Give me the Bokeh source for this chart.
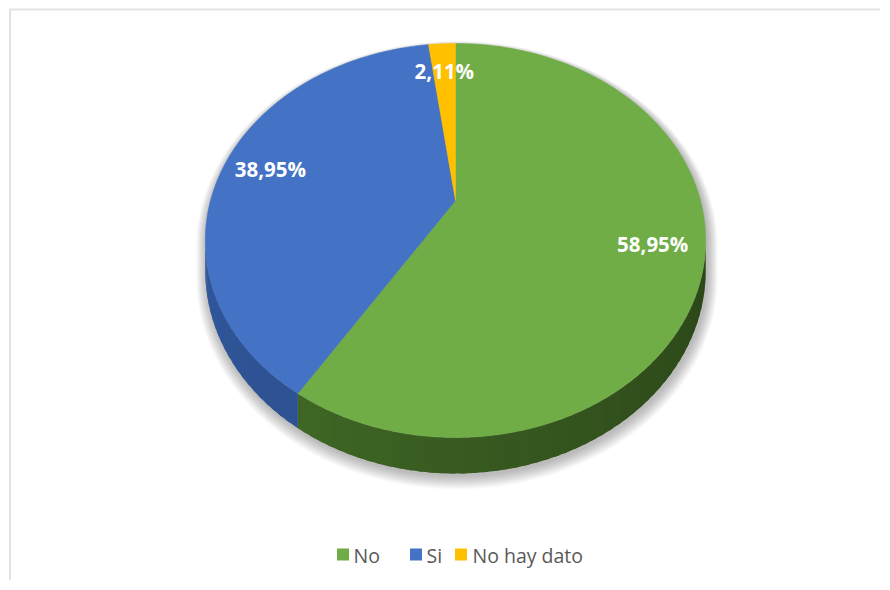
import numpy as np
from bokeh.plotting import figure
from bokeh.models import Range1d
from bokeh.embed import file_html
from bokeh.resources import INLINE
from bokeh.core.properties import value

# ---- data ----
categories = ["No", "Si", "No hay dato"]
values = [58.95, 38.95, 2.11]
labels = ["58,95%", "38,95%", "2,11%"]

# ---- style ----
top_colors = ["#70AD47", "#4472C4", "#FFC000"]
side_light = np.array([[0x4a, 0x79, 0x2c], [0x31, 0x58, 0x9c], [0xb3, 0x86, 0x00]], float)
side_dark = np.array([[0x2c, 0x47, 0x19], [0x27, 0x47, 0x80], [0x8a, 0x67, 0x00]], float)
FONT = "Open Sans"

# projection of a tilted disc (screen pixel space)
CX, CY = 455.0, 200.0
RX = 245.0
B = 148.3
K = 0.203
DEPTH = 28.7


def proj(theta_deg, r=1.0):
    t = np.radians(theta_deg)
    u = r * np.sin(t)
    v = -r * np.cos(t)
    w = 1 - K * v
    return CX + RX * u / w, (CY + B * v) / w


def proj_bottom(theta_deg):
    x, y = proj(theta_deg)
    v = -np.cos(np.radians(theta_deg))
    return x, y + DEPTH / (1 - K * v)


def hexc(rgb):
    return "#%02x%02x%02x" % tuple(int(round(c)) for c in rgb)


vals = np.array(values, float)
frac = vals / vals.sum()
ends = np.cumsum(frac) * 360.0
starts = ends - frac * 360.0

p = figure(width=880, height=580, x_range=Range1d(0, 880), y_range=Range1d(580, 0),
           output_backend="svg", toolbar_location=None, min_border=0,
           x_axis_type=None, y_axis_type=None)
p.outline_line_color = None
p.background_fill_color = "white"
p.border_fill_color = "white"

# frame lines (top and left)
p.line(x=[9, 880], y=[9, 9], line_color="#e2e2e2", line_width=2)
p.line(x=[9.5, 9.5], y=[9, 580], line_color="#e2e2e2", line_width=2)

# soft shadow under the pie
sil_left = np.degrees(np.arccos(-K))
sil_right = 360 - sil_left
th_back = np.linspace(sil_right - 360, sil_left, 120)
th_front = np.linspace(sil_left, sil_right, 120)
bx, by = proj(th_back)
fx, fy = proj_bottom(th_front)
sx = np.concatenate([bx, fx])
sy = np.concatenate([by, fy])
scx, scy = CX, 262.0
for i in range(12, 0, -1):
    s = 1 + 0.0035 * i
    p.patch(scx + (sx - scx) * s + 1.5, scy + (sy - scy) * s + 2.0 + 0.4 * i,
            fill_color="black", fill_alpha=0.025, line_color=None)

# sides (overlapping strips to avoid seams)
for i in range(len(values)):
    a0 = max(starts[i], sil_left)
    a1 = min(ends[i], sil_right)
    if a1 <= a0:
        continue
    n = max(2, int((a1 - a0) / 2))
    edges = np.linspace(a0, a1, n + 1)
    for j in range(n):
        e1 = min(edges[j + 1] + 1.0, a1)
        seg = np.linspace(edges[j], e1, 5)
        tx, ty = proj(seg)
        bx2, by2 = proj_bottom(seg[::-1])
        mid = 0.5 * (edges[j] + edges[j + 1])
        f = (mid - sil_left) / (sil_right - sil_left)
        col = side_dark[i] + (side_light[i] - side_dark[i]) * f ** 1.3
        p.patch(np.concatenate([tx, bx2]), np.concatenate([ty, by2]),
                fill_color=hexc(col), line_color=None)

# top faces
for i in range(len(values)):
    th = np.linspace(starts[i], ends[i], max(3, int(frac[i] * 360)))
    ax, ay = proj(th)
    xs = np.concatenate([[CX], ax])
    ys = np.concatenate([[CY], ay])
    p.patch(xs, ys, fill_color=top_colors[i], line_color=top_colors[i], line_width=0.5)

# data labels
mids = 0.5 * (starts + ends)
lx, ly = proj(mids, 0.8)
p.text(x=list(lx), y=list(ly), text=labels, text_font=value(FONT), text_font_style="bold",
       text_font_size="20.5px", text_color="white", text_align="center", text_baseline="middle")

# legend
leg_sq_x = [342.5, 415.5, 460.5]
leg_tx_x = [353, 426, 472]
leg_y = 554
p.rect(x=leg_sq_x, y=[leg_y] * 3, width=12, height=12, fill_color=top_colors, line_color=None)
p.text(x=leg_tx_x, y=[leg_y + 1] * 3, text=categories, text_font=value(FONT),
       text_font_size="19.5px", text_color="#595959", text_align="left", text_baseline="middle")

open("out.html", "w").write(file_html(p, INLINE))
